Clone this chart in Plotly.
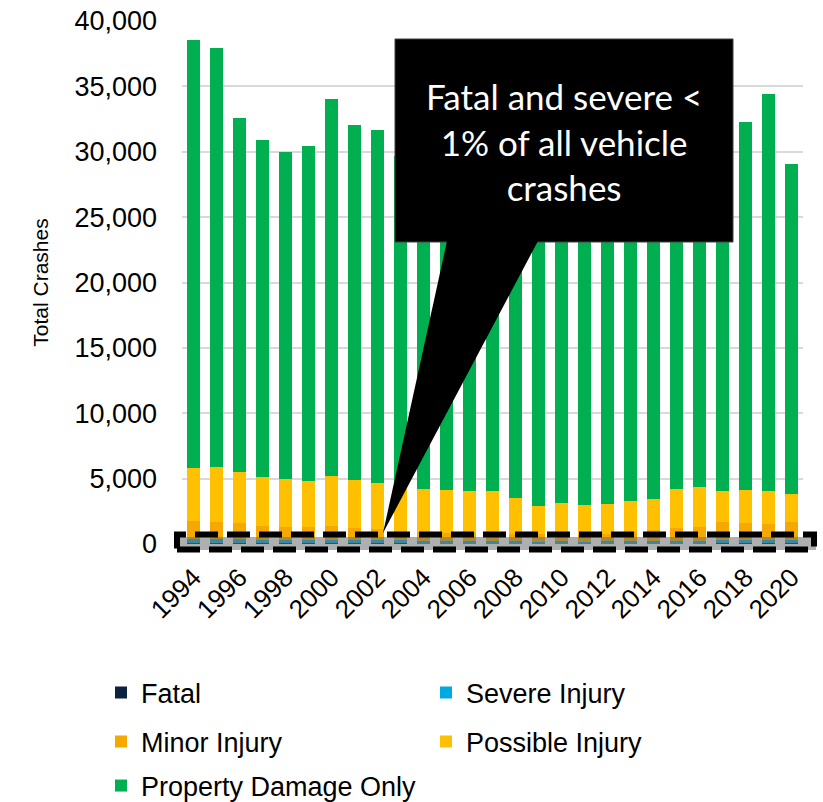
import plotly.graph_objects as go

years = list(range(1994, 2021))

fatal = [55, 50, 48, 45, 47, 44, 46, 43, 42, 40, 38, 37, 36, 35, 33, 30, 31, 30,
         32, 33, 34, 36, 38, 40, 39, 41, 44]
severe = [300, 310, 300, 290, 280, 285, 290, 270, 260, 240, 200, 190, 185, 180, 175,
          160, 165, 160, 170, 175, 185, 200, 230, 260, 265, 270, 290]
minor = [1425, 1320, 1230, 1065, 945, 940, 1065, 885, 820, 720, 660, 625, 630, 585,
         590, 560, 555, 560, 600, 740, 850, 965, 1050, 1350, 1275, 1190, 1315]
possible = [4000, 4220, 3940, 3710, 3670, 3540, 3820, 3690, 3510, 3400, 3300, 3270,
            3220, 3250, 2710, 2120, 2350, 2200, 2250, 2330, 2390, 2970, 3030, 2400,
            2570, 2550, 2190]
pdo = [32740, 32070, 27100, 25810, 25060, 25650, 28800, 27150, 27020, 25290, 25100,
       24780, 24530, 23750, 22690, 22030, 22200, 22550, 23250, 24120, 25440, 26230,
       26950, 27550, 28150, 30400, 25240]

series = [
    ("Fatal", fatal, "#0c2340", "legend"),
    ("Severe Injury", severe, "#00a9e0", "legend"),
    ("Minor Injury", minor, "#f5a800", "legend2"),
    ("Possible Injury", possible, "#ffc000", "legend2"),
    ("Property Damage Only", pdo, "#00b050", "legend3"),
]

fig = go.Figure()
for name, vals, color, leg in series:
    fig.add_trace(go.Bar(x=years, y=vals, name=name, marker_color=color,
                         marker_line_width=0, legend=leg))

# plot area on page: x 182..803, y 21..544 (body margin removed below)
def px(x):
    return (x - 182) / 621.0

def py(y):
    return (544 - y) / 523.0

shapes = [
    # callout box
    dict(type="rect", xref="paper", yref="paper", x0=px(395), x1=px(733),
         y0=py(242), y1=py(39), fillcolor="black", line=dict(color="#404040", width=1),
         layer="above"),
    # pointer
    dict(type="path", xref="paper", yref="paper",
         path=f"M{px(447)},{py(241)} L{px(538)},{py(241)} L{px(383)},{py(533)} Z",
         fillcolor="black", line=dict(width=0), layer="above"),
    # shadow of dashed box
    dict(type="rect", xref="paper", yref="paper", x0=px(178), x1=px(816),
         y0=py(550), y1=py(537), fillcolor="rgba(110,110,110,0.55)",
         line=dict(width=0), layer="above"),
    # dashed box
    dict(type="rect", xref="paper", yref="paper", x0=px(177), x1=px(814),
         y0=py(549.5), y1=py(534.5), fillcolor="rgba(0,0,0,0)",
         line=dict(color="black", width=6, dash="23px,9px"), layer="above"),
]

leg_common = dict(orientation="h", xanchor="left", yanchor="middle",
                  entrywidth=280, font=dict(size=27), traceorder="normal")

fig.update_layout(
    width=823, height=802,
    margin=dict(l=182, r=823 - 803, t=21, b=802 - 544, autoexpand=False),
    paper_bgcolor="white", plot_bgcolor="white",
    barmode="stack", bargap=0.45,
    font=dict(family="Liberation Sans, Arial", color="black"),
    shapes=shapes,
    annotations=[dict(
        xref="paper", yref="paper", x=px(564), y=py(141),
        xanchor="center", yanchor="middle",
        text="Fatal and severe <<br>1% of all vehicle<br>crashes",
        showarrow=False, align="center",
        font=dict(family="Lato, Open Sans", size=35, color="white"),
    )],
    legend=dict(x=px(101), y=py(693), **leg_common),
    legend2=dict(x=px(101), y=py(742), **leg_common),
    legend3=dict(x=px(101), y=py(786), **leg_common),
)

fig.update_xaxes(
    range=[1993.5, 2020.5], tickvals=years[::2], tickangle=-45,
    tickfont=dict(size=26), showgrid=False, showline=False, ticklabelstandoff=12,
)
fig.update_yaxes(
    range=[0, 40000], dtick=5000, tickformat=",", tickfont=dict(size=27),
    gridcolor="#d9d9d9", gridwidth=1.5, zeroline=False, showline=False,
    ticklabelstandoff=24, ticklabeloverflow="allow",
    title=dict(text="Total Crashes", font=dict(size=21), standoff=20),
)

fig.write_html("out.html", config={"displayModeBar": False},
               post_script="document.body.style.margin='0';")
